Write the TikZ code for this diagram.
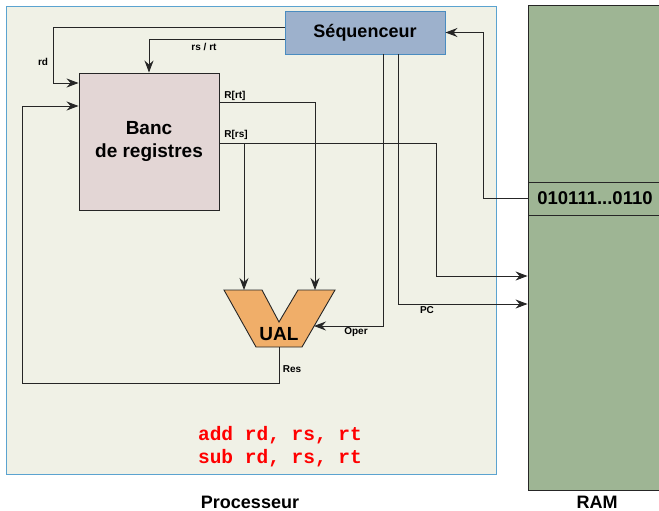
\documentclass[tikz,border=0pt]{standalone}
\usepackage{fontspec}
\setmainfont{Liberation Sans}
\setmonofont{Liberation Mono}
\usetikzlibrary{arrows.meta}
\definecolor{procbg}{HTML}{F0F1E6}
\definecolor{procline}{HTML}{5BA3D0}
\definecolor{seqfill}{HTML}{9DB1CC}
\definecolor{seqline}{HTML}{4A8CC0}
\definecolor{bancfill}{HTML}{E3D6D5}
\definecolor{ualfill}{HTML}{F0AE69}
\definecolor{ramfill}{HTML}{9EB594}

\begin{document}
\begin{tikzpicture}[x=1pt, y=-1pt,
    ln/.style={draw=black!85, line width=0.9pt},
    arr/.style={ln, -{Stealth[length=12pt, width=9pt, inset=4pt]}},
    lbl/.style={font=\bfseries\fontsize{10}{12}\selectfont, inner sep=1pt},
    bloc/.style={draw=black!85, line width=0.9pt, inner sep=0pt, align=center, font=\bfseries\fontsize{18}{23}\selectfont}]
    \useasboundingbox (0,0) rectangle (659,511);
    \node[bloc, draw=procline, fill=procbg, line width=0.8pt, minimum width=489.5pt, minimum height=468pt] (proc) at (251.25,240) {};
    \node[bloc, fill=ramfill, minimum width=140pt, minimum height=485pt] (ram) at (598,247.5) {};
    \node[bloc, fill=ramfill, minimum width=134pt, minimum height=33pt, font=\bfseries\fontsize{18.5}{22}\selectfont] (cell) at (595,198.5) {010111...0110};
    \node[bloc, draw=seqline, fill=seqfill, minimum width=160pt, minimum height=43pt] (seq) at (365,32.5) {Séquenceur};
    \node[bloc, fill=bancfill, minimum width=140pt, minimum height=137pt, font=\bfseries\fontsize{19}{23}\selectfont] (banc) at (149,141.5) {Banc\\de registres};

    \draw[ln, fill=ualfill] (224,290) -- (262,290) -- (279,322) -- (298,290) -- (335,290) -- (302,347) -- (256,347) -- cycle;
    \coordinate (ualL) at (244,290); \coordinate (ualR) at (315,290);
    \coordinate (ualOp) at (314,326); \coordinate (ualS) at (279,347);
    \node[font=\bfseries\fontsize{19}{23}\selectfont, inner sep=0pt] (ual) at (279,334) {UAL};

    \draw[arr] ([yshift=5.5pt]seq.west) -| (53,83) -- ([yshift=58.5pt]banc.west);
    \draw[arr] ([yshift=-6.5pt]seq.west) -| (banc.north);
    \draw[arr] (ualS) -- (279,383) -| (22,106) -- ([yshift=35.5pt]banc.west);
    \draw[arr] ([yshift=39.5pt]banc.east) -| (ualR);
    \draw[arr] ([yshift=-1.5pt]banc.east) -| (436,276) -- (ram.west |- 436,276);
    \draw[arr] (244,143) -- (ualL);
    \draw[arr] ([xshift=18pt]seq.south) |- (ualOp);
    \draw[arr] ([xshift=33pt]seq.south) |- (ram.west |- 398,304);
    \draw[arr] (cell.west) -| (483,32.5) -- (seq.east);

    \node[lbl] (lrd) at (43,62) {rd}; \node[lbl] (lrsrt) at (204,47) {rs / rt};
    \node[lbl] (lrt) at (235,96) {R[rt]}; \node[lbl] (lrs) at (236,135) {R[rs]};
    \node[lbl] (loper) at (356,332) {Oper}; \node[lbl] (lpc) at (427,310) {PC};
    \node[lbl] (lres) at (292,369) {Res};

    \node[font=\ttfamily\bfseries\fontsize{19.5}{23}\selectfont, text=red, align=center] (asm) at (280,447) {add rd, rs, rt\\sub rd, rs, rt};
    \node[font=\bfseries\fontsize{18}{22}\selectfont] (lproc) at (250,502) {Processeur};
    \node[font=\bfseries\fontsize{18}{22}\selectfont] (lram) at (597,502) {RAM};
\end{tikzpicture}
\end{document}
